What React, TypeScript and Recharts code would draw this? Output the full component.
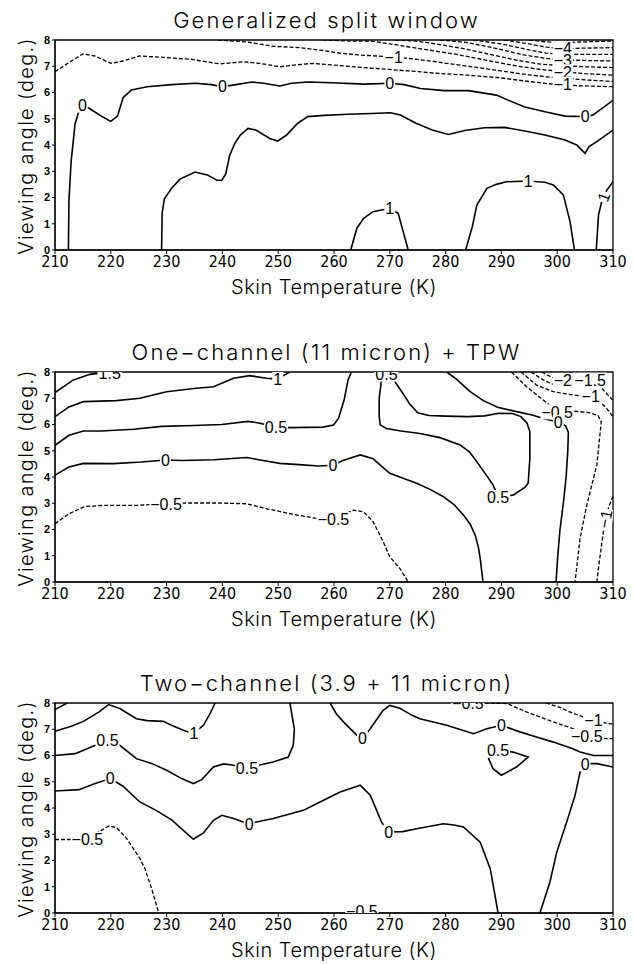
import React from 'react';
import { ComposedChart, Line, Scatter, XAxis, YAxis, ReferenceArea } from 'recharts';

type P = [number, number];
type Lab = [string, number, number, number?];

const xTicks = [210, 220, 230, 240, 250, 260, 270, 280, 290, 300, 310];
const yTicks = [0, 1, 2, 3, 4, 5, 6, 7, 8];
const panelTitles = ['Generalized split window', 'One\u2212channel (11 micron) + TPW', 'Two\u2212channel (3.9 + 11 micron)'];
const xTitle = 'Skin Temperature (K)';
const yTitle = 'Viewing angle (deg.)';

// ---------- Panel 1: Generalized split window ----------
const swZero: P[] = [[212.4,0],[212.5,1.9],[212.9,3.4],[213.6,4.8],[214.3,5.3],[215,5.5],[216.1,5.4],[218.3,5.1],[220,4.9],[221.2,5.1],[222.2,5.8],[223.7,6.1],[226.5,6.22],[230.9,6.3],[235.2,6.35],[238,6.3],[240,6.22],[242.4,6.3],[245.3,6.4],[247.4,6.35],[250.3,6.25],[252.4,6.35],[255.3,6.4],[259.6,6.37],[265.4,6.32],[270,6.35],[272.6,6.3],[275.5,6.15],[279.8,6.07],[284.1,6.07],[289.1,5.9],[291.3,5.7],[294.2,5.45],[297.8,5.27],[301.4,5.1],[305,5.08],[306.4,5.14],[310,5.7]];
const swHalf: P[] = [[229.1,0],[229.2,1.4],[229.6,1.95],[230.9,2.35],[232.4,2.7],[235.1,2.97],[237.3,2.86],[239,2.66],[239.9,2.66],[240.6,2.9],[241.3,3.6],[242.2,4.05],[243.2,4.38],[244.6,4.63],[246,4.57],[248.5,4.25],[249.9,4.15],[251.5,4.38],[253.5,4.83],[255.3,5.08],[258.2,5.13],[262.5,5.17],[266.8,5.2],[270.1,5.23],[271.9,5.14],[274.7,4.83],[277.6,4.57],[280.5,4.4],[283.4,4.55],[287,4.66],[290.6,4.67],[294.2,4.53],[297.8,4.38],[301.4,4.19],[303.5,4.0],[305,3.68],[305.7,3.94],[307.1,4.13],[310,4.57]];
const swOneA: P[] = [[263,0],[264.1,0.83],[265.3,1.21],[267,1.46],[270,1.59],[271.5,1.4],[272.4,0.7],[273.3,0]];
const swOneB: P[] = [[283.6,0],[284.8,0.9],[285.6,1.71],[287.4,2.35],[289.1,2.5],[290.9,2.6],[294.8,2.63],[297.8,2.58],[299.3,2.48],[301.1,2.1],[302.3,1.08],[303.1,0]];
const swOneC: P[] = [[307,0],[307.4,1.33],[307.9,1.78],[308.3,2.03],[308.9,2.28],[310,2.6]];
const swNeg1: P[] = [[210,6.79],[212.2,7.1],[215,7.47],[217.2,7.39],[220,7.11],[222.2,7.2],[225.1,7.39],[229.4,7.34],[234.5,7.26],[239.5,7.09],[243.8,7.17],[246.7,7.11],[250.3,6.98],[253.2,7.05],[256,7.11],[259.6,7.05],[265.4,6.95],[269.7,6.88],[274.7,6.8],[279.1,6.72],[284,6.66],[289.7,6.56],[295.7,6.4],[299.5,6.31],[303.5,6.26],[306.4,6.24],[310,6.22]];
const swNeg2: P[] = [[239.2,8],[244.3,7.93],[249.1,7.76],[253.9,7.71],[258,7.6],[261,7.5],[265,7.42],[270.5,7.36],[275.4,7.25],[281.3,7.08],[287.4,6.9],[293.3,6.72],[298,6.6],[301,6.55],[305,6.48],[310,6.42]];
const swNeg3: P[] = [[258,8],[263,7.96],[267,7.95],[271,7.82],[276,7.65],[282,7.45],[288,7.2],[293,7.0],[297,6.88],[301,6.79],[305,6.72],[310,6.66]];
const swNeg4: P[] = [[271,8],[274.5,7.96],[278,7.86],[283,7.68],[288,7.45],[293,7.22],[297,7.08],[301,7.02],[305,6.98],[310,6.95]];
const swNeg5: P[] = [[279,8],[284,7.9],[289,7.68],[294,7.43],[298,7.3],[301,7.24],[305,7.22],[310,7.2]];
const swNeg6: P[] = [[285,8],[290,7.85],[295,7.62],[298,7.5],[301,7.45],[305,7.45],[310,7.45]];
const swNeg7: P[] = [[290.5,8],[295,7.85],[298,7.73],[301,7.67],[305,7.69],[310,7.71]];
const swNeg8: P[] = [[295,8],[298,7.93],[301,7.9],[305,7.93],[310,7.96]];
const swLabels: Lab[] = [['0',214.9,5.52],['0',240,6.22],['0',270,6.35],['0',305,5.08],['1',270,1.59],['1',294.8,2.63],['1',308.3,2.03,-70],['\u22121',270.7,7.36],['\u22124',301,7.67],['\u22123',301,7.24],['\u22122',301,6.79],['\u22121',301,6.31]];

// ---------- Panel 2: One-channel + TPW ----------
const tpOneHalf: P[] = [[210,7.22],[213.3,7.7],[216.3,7.91],[219.6,8]];
const tpOne: P[] = [[210,6.3],[212.5,6.67],[215.1,6.87],[221,6.91],[225.2,7.0],[230,7.25],[234.9,7.37],[238.4,7.44],[242,7.76],[244.9,7.86],[247.9,7.76],[249.8,7.73],[251.5,7.93],[252.1,8]];
const tpHalf: P[] = [[210,5.21],[212.5,5.59],[215.1,5.75],[218.3,5.75],[224.1,5.82],[229.1,5.93],[234.9,5.96],[239.9,6.0],[244.6,6.12],[246.5,6.06],[249.6,5.91],[252.2,5.88],[258,5.9],[259.9,5.98],[260.8,6.23],[261.8,6.92],[262.5,7.68],[263.1,8]];
const tpHalfU: P[] = [[268.5,8],[268.4,7.5],[268.1,7.0],[268.1,6.3],[268.3,5.98],[269.4,5.85],[272,5.75],[275.4,5.66],[279,5.5],[282.6,5.22],[284.3,4.95],[285.6,4.58],[287.2,4.1],[288.5,3.7],[289.4,3.25],[292.1,3.31],[294.2,3.6],[294.8,3.76],[295.1,4.71],[295.1,5.73],[294.6,6.05],[293.5,6.3],[292,6.42],[289.5,6.43],[287,6.33],[284,6.3],[280,6.32],[277,6.34],[275,6.45],[273.5,6.8],[272.3,7.2],[271,7.6],[270.3,8]];
const tpZeroL: P[] = [[210,4.07],[212.5,4.38],[215.1,4.52],[220.5,4.51],[225.5,4.57],[229.8,4.65],[232.7,4.63],[238.5,4.66],[244.4,4.74],[246.5,4.66],[250.3,4.52],[253.7,4.47],[257.3,4.42],[259.8,4.45],[261.6,4.63],[264.7,4.84],[267,4.7],[268.3,4.45],[270,4.14],[272.5,3.94],[274.8,3.76],[277.3,3.52],[279.6,3.25],[281.5,2.95],[283.2,2.55],[284.4,2.2],[285.3,1.79],[285.9,1.3],[286.2,0.9],[286.7,0]];
const tpZeroR: P[] = [[280.2,8],[282,7.72],[284.4,7.25],[286.7,6.92],[289.3,6.66],[292.5,6.5],[295.5,6.36],[298,6.2],[300.2,6.1],[301.5,5.95],[302,5.7],[301.9,5],[301.6,4],[301.1,3],[300.5,2],[300.1,1],[299.8,0]];
const tpNegHalfL: P[] = [[210,2.22],[212.5,2.6],[215.4,2.88],[219,2.92],[224.8,2.92],[229.9,2.98],[233.5,3.01],[239.2,3.01],[244.3,2.98],[248,2.79],[252.2,2.6],[256.6,2.43],[259.9,2.38],[263.5,2.74],[265.3,2.67],[267,2.3],[268.8,1.54],[270,0.96],[271.8,0.52],[273.3,0]];
const tpNegHalfR: P[] = [[291.8,8],[294.5,7.44],[297.5,6.93],[299.3,6.62],[300,6.48],[302.8,6.51],[305.5,6.46],[307.3,6.35],[307.9,6.1],[307.7,5.7],[307.1,4.46],[305.3,2.93],[304.1,1.66],[303.2,0]];
const tpNegOne: P[] = [[293.5,8],[296.3,7.5],[299.3,7.25],[302.9,7.12],[306,7.06],[307.5,6.9],[308.7,6.65],[310,6.3]];
const tpNegOneHalf: P[] = [[295.3,8],[297.5,7.7],[299.5,7.5],[301.5,7.45],[303.5,7.55],[305.9,7.69],[307.5,7.49],[310,6.92]];
const tpNegTwo: P[] = [[297.2,8],[299,7.8],[301,7.68],[302.6,7.8],[303.6,8]];
const tpNegOneB: P[] = [[310,3.27],[309.3,2.9],[308.6,2.4],[308,1.5],[307.5,0.7],[307.1,0]];
const tpLabels: Lab[] = [['1.5',219.8,7.95],['1',249.9,7.73],['0.5',249.6,5.91],['0.5',269.4,7.92],['0.5',289.4,3.22],['0',229.8,4.65],['0',259.8,4.45],['\u22120.5',229.9,2.98],['\u22120.5',259.9,2.38],['\u22122',301,7.68],['\u22121.5',305.9,7.69],['\u22121',306,7.06],['\u22120.5',300,6.48],['0',300.2,6.08],['\u22121',308.6,2.4,-80]];

// ---------- Panel 3: Two-channel ----------
const tcCorner: P[] = [[210,7.75],[211.4,7.91],[212.2,8]];
const tcOne: P[] = [[210,6.92],[212.9,7.11],[215.1,7.3],[217.9,7.66],[219.6,7.94],[221.6,7.79],[224.6,7.4],[226.5,7.33],[229.4,7.3],[231.2,7.12],[233,6.96],[234.8,6.83],[236.6,7.15],[237.8,7.6],[238.7,8]];
const tcHalf: P[] = [[210,6.0],[213.6,6.07],[215.1,6.2],[216.8,6.35],[219.4,6.58],[221.6,6.39],[224.6,5.88],[227.3,5.7],[230,5.44],[232.7,5.12],[234.8,4.93],[236.3,5.08],[238.4,5.56],[240.2,5.68],[241.7,5.64],[244.4,5.53],[249.1,5.75],[251.8,5.94],[252.7,6.39],[252.9,7.0],[252.1,8]];
const tcZero: P[] = [[210,4.65],[214.3,4.7],[217.2,4.93],[219.9,5.12],[222.2,4.83],[225.2,4.23],[228.2,3.9],[230.9,3.55],[233,3.15],[234.8,2.81],[236.6,3.05],[238.4,3.53],[239.9,3.72],[242,3.6],[244.6,3.4],[249.1,3.6],[254.5,3.91],[257.5,4.23],[261.1,4.61],[264.7,4.87],[266.5,4.49],[268.5,3.47],[269.7,3.09],[272.3,3.1],[274.8,3.21],[279.6,3.4],[281.5,3.35],[283.2,3.28],[286.2,2.7],[288,1.69],[288.8,0.74],[289.4,0]];
const tcZeroTop: P[] = [[259.3,8],[260.4,7.59],[261.7,7.28],[264.1,6.77],[265,6.64],[266.5,7.02],[268.8,7.72],[270,7.91],[271.8,7.8],[274,7.53],[275.4,7.4],[280.2,7.15],[285,6.83],[287.4,7.02],[290,7.15],[293.3,6.9],[296,6.72],[299.3,6.51],[302.8,6.26],[304.1,6.13],[306.5,6.0],[310,6.0]];
const tcZeroR: P[] = [[296.9,0],[298.7,1.18],[299.9,2.3],[301.7,3.47],[303.2,4.48],[304.1,5.37],[305,5.69],[307.1,5.69],[310,5.56]];
const tcHalfLoop: P[] = [[289.4,6.2],[292.1,6.13],[294.8,5.94],[292.7,5.56],[290,5.25],[288.5,5.5],[287.7,5.88],[288.4,6.1],[289.4,6.2]];
const tcNegHalfTop: P[] = [[287,8],[291,7.98],[294.5,7.66],[299.3,7.28],[302.9,7.02],[305.3,6.72],[308.9,6.64],[310,6.64]];
const tcNegOne: P[] = [[298,8],[300.5,7.83],[302.9,7.6],[306.5,7.34],[308.9,7.22],[310,7.2]];
const tcNegHalfL: P[] = [[210,2.8],[213,2.8],[215.7,2.81],[218.3,3.15],[219.6,3.31],[221,3.26],[222.8,2.85],[225.2,2.08],[226.1,1.7],[227.3,0.94],[228.6,0]];
const tcLabels: Lab[] = [['1',234.9,6.83],['0.5',219.4,6.58],['0.5',244.4,5.53],['0',219.9,5.12],['0',244.8,3.4],['0',269.8,3.08],['0',265.1,6.64],['0',290,7.15],['0',305,5.68],['0.5',289.4,6.2],['\u22120.5',284,7.99],['\u22121',306.5,7.34],['\u22120.5',305.3,6.72],['\u22120.5',215.8,2.8],['\u22120.5',265,0.06]];

const panels = [
  { title: panelTitles[0], solid: [swZero, swHalf, swOneA, swOneB, swOneC], dashed: [swNeg1, swNeg2, swNeg3, swNeg4, swNeg5, swNeg6, swNeg7, swNeg8], labels: swLabels, top: 0 },
  { title: panelTitles[1], solid: [tpOneHalf, tpOne, tpHalf, tpHalfU, tpZeroL, tpZeroR], dashed: [tpNegHalfL, tpNegHalfR, tpNegOne, tpNegOneHalf, tpNegTwo, tpNegOneB], labels: tpLabels, top: 332 },
  { title: panelTitles[2], solid: [tcCorner, tcOne, tcHalf, tcZero, tcZeroTop, tcZeroR, tcHalfLoop], dashed: [tcNegHalfTop, tcNegOne, tcNegHalfL], labels: tcLabels, top: 663 },
];

const SANS = "'Liberation Sans', Arial, sans-serif";
const LIGHT = "Inter, 'Open Sans', 'Liberation Sans', sans-serif";
const NARROW = "'Liberation Sans Narrow', 'DejaVu Sans Condensed', 'Liberation Sans', sans-serif";

const toPts = (a: P[]) => a.map(([x, y]) => ({ x, y }));
const toLabs = (a: Lab[]) => a.map(([t, x, y, r]) => ({ t, x, y, r: r || 0 }));

const charW = (c: string) => (c === '.' ? 4.4 : c === '\u2212' ? 9.3 : 8.9);

function LabelShape(props: any) {
  const { cx, cy, payload } = props;
  if (cx == null || cy == null || !payload) return <g />;
  const t: string = payload.t;
  let w = 2;
  for (const c of t) w += charW(c);
  return (
    <g transform={payload.r ? `rotate(${payload.r} ${cx} ${cy})` : undefined}>
      <rect x={cx - w / 2} y={cy - 7.5} width={w} height={15} fill="#fff" />
      <text x={cx} y={cy} dy="0.36em" textAnchor="middle" fontSize={16} fontFamily={SANS} fill="#000">{t}</text>
    </g>
  );
}

function Panel({ title, solid, dashed, labels, top }: any) {
  return (
    <div style={{ position: 'absolute', left: 0, top, width: 633, height: 330 }}>
      <div style={{ position: 'absolute', left: 20, width: 613, top: 6, textAlign: 'center', fontFamily: LIGHT, fontWeight: 300, fontSize: 22, lineHeight: '28px', letterSpacing: '2.1px', color: '#000', whiteSpace: 'nowrap' }}>{title}</div>
      <ComposedChart width={633} height={330} margin={{ top: 40, right: 20, bottom: 40, left: 0 }}>
        <XAxis type="number" dataKey="x" domain={[210, 310]} ticks={xTicks} interval={0} allowDataOverflow height={40} tickSize={4} stroke="#000" tick={{ fill: '#000', fontSize: 16, fontFamily: NARROW }} />
        <YAxis type="number" dataKey="y" domain={[0, 8]} ticks={yTicks} interval={0} allowDataOverflow width={55} tickSize={3} stroke="#000" tick={{ fill: '#000', fontSize: 11, fontWeight: 'bold', fontFamily: SANS }} />
        {solid.map((d: P[], i: number) => (
          <Line key={'s' + i} data={toPts(d)} dataKey="y" type="linear" stroke="#000" strokeWidth={1.6} dot={false} activeDot={false} isAnimationActive={false} />
        ))}
        {dashed.map((d: P[], i: number) => (
          <Line key={'d' + i} data={toPts(d)} dataKey="y" type="linear" stroke="#000" strokeWidth={1.3} strokeDasharray="4 2" dot={false} activeDot={false} isAnimationActive={false} />
        ))}
        <Scatter data={toLabs(labels)} dataKey="y" shape={LabelShape} isAnimationActive={false} />
        <ReferenceArea x1={210} x2={310} y1={0} y2={8} fill="none" stroke="#000" strokeWidth={1.3} ifOverflow="visible" />
      </ComposedChart>
      <div style={{ position: 'absolute', left: 55, width: 558, top: 274, textAlign: 'center', fontFamily: LIGHT, fontWeight: 300, fontSize: 20, lineHeight: '26px', letterSpacing: '0.5px', color: '#000', whiteSpace: 'nowrap' }}>{xTitle}</div>
      <div style={{ position: 'absolute', left: 26, top: 146, transform: 'translate(-50%, -50%) rotate(-90deg)', fontFamily: LIGHT, fontWeight: 300, fontSize: 20, lineHeight: '26px', letterSpacing: '1.3px', color: '#000', whiteSpace: 'nowrap' }}>{yTitle}</div>
    </div>
  );
}

export default function App() {
  return (
    <div style={{ position: 'absolute', left: 0, top: 0, width: 633, height: 964, background: '#fff' }}>
      {panels.map((p, i) => (
        <Panel key={i} {...p} />
      ))}
    </div>
  );
}
